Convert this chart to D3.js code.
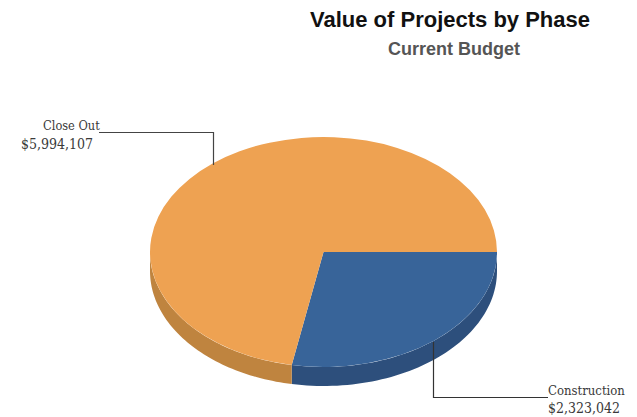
<!DOCTYPE html>
<html>
<head>
<meta charset="utf-8">
<script src="https://cdn.jsdelivr.net/npm/d3@7"></script>
<style>
  html, body { margin: 0; padding: 0; background: #fff; }
  svg { display: block; }
  .title { font-family: "Liberation Sans", Arial, sans-serif; font-weight: bold; text-anchor: middle; }
  .label { font-family: "DejaVu Serif Condensed", "DejaVu Serif", serif; fill: #3a3a3a; }
</style>
</head>
<body>
<div id="chart"></div>
<script>
// chart data
var phases = ["Construction", "Close Out"];
var budgets = [2323042, 5994107];
var budgetLabels = ["$2,323,042", "$5,994,107"];
var topColors = ["#386499", "#EEA252"];
var sideColors = ["#2D4F7C", "#BF843F"];

var width = 637, height = 417;
var cx = 323.5, cy = 252, rx = 173.5, ry = 115, depth = 19;

var svg = d3.select("#chart").append("svg")
  .attr("width", width)
  .attr("height", height);

// titles
svg.append("text").attr("class", "title")
  .attr("x", 450).attr("y", 27)
  .attr("font-size", 22).attr("fill", "#111")
  .text("Value of Projects by Phase");
svg.append("text").attr("class", "title")
  .attr("x", 454).attr("y", 55)
  .attr("font-size", 18).attr("fill", "#555")
  .text("Current Budget");

// slices start at 3 o'clock and run clockwise
var pie = d3.pie().sort(null)
  .startAngle(Math.PI / 2)
  .endAngle(Math.PI / 2 + 2 * Math.PI);
var slices = pie(budgets);

var px = function (a) { return cx + rx * Math.sin(a); };
var py = function (a) { return cy - ry * Math.cos(a); };

//Side wall, only the front half of the ellipse can be seen
var wall = d3.line();
var lo = Math.PI / 2, hi = 3 * Math.PI / 2;
slices.forEach(function (d, i) {
  var a0 = Math.max(d.startAngle, lo), a1 = Math.min(d.endAngle, hi);
  if (a1 <= a0) return;
  var angles = d3.range(0, 61).map(function (k) { return a0 + (a1 - a0) * k / 60; });
  var pts = angles.map(function (a) { return [px(a), py(a)]; })
    .concat(angles.slice().reverse().map(function (a) { return [px(a), py(a) + depth]; }));
  svg.append("path")
    .attr("d", wall(pts) + "Z")
    .attr("fill", sideColors[i]);
});

// top face: unit arc stretched into the ellipse
var arc = d3.arc().innerRadius(0).outerRadius(1);
svg.append("g")
  .attr("transform", "translate(" + cx + "," + cy + ") scale(" + rx + "," + ry + ")")
  .selectAll("path")
  .data(slices)
  .enter()
  .append("path")
  .attr("d", arc)
  .attr("fill", function (d, i) { return topColors[i]; });

// leader lines
var leader = d3.line();
svg.append("path")
  .attr("d", leader([[99, 132.5], [213.5, 132.5], [213.5, 165]]))
  .attr("fill", "none").attr("stroke", "#444").attr("stroke-width", 1.2);
svg.append("path")
  .attr("d", leader([[433.5, 342], [433.5, 397.5], [548, 397.5]]))
  .attr("fill", "none").attr("stroke", "#333").attr("stroke-width", 1.2);

// labels
svg.append("text").attr("class", "label")
  .attr("x", 43).attr("y", 130).attr("font-size", 12.7)
  .text(phases[1]);
svg.append("text").attr("class", "label")
  .attr("x", 21).attr("y", 149).attr("font-size", 14)
  .text(budgetLabels[1]);
svg.append("text").attr("class", "label")
  .attr("x", 548).attr("y", 395).attr("font-size", 13)
  .text(phases[0]);
svg.append("text").attr("class", "label")
  .attr("x", 548).attr("y", 413).attr("font-size", 14)
  .text(budgetLabels[0]);
</script>
</body>
</html>
